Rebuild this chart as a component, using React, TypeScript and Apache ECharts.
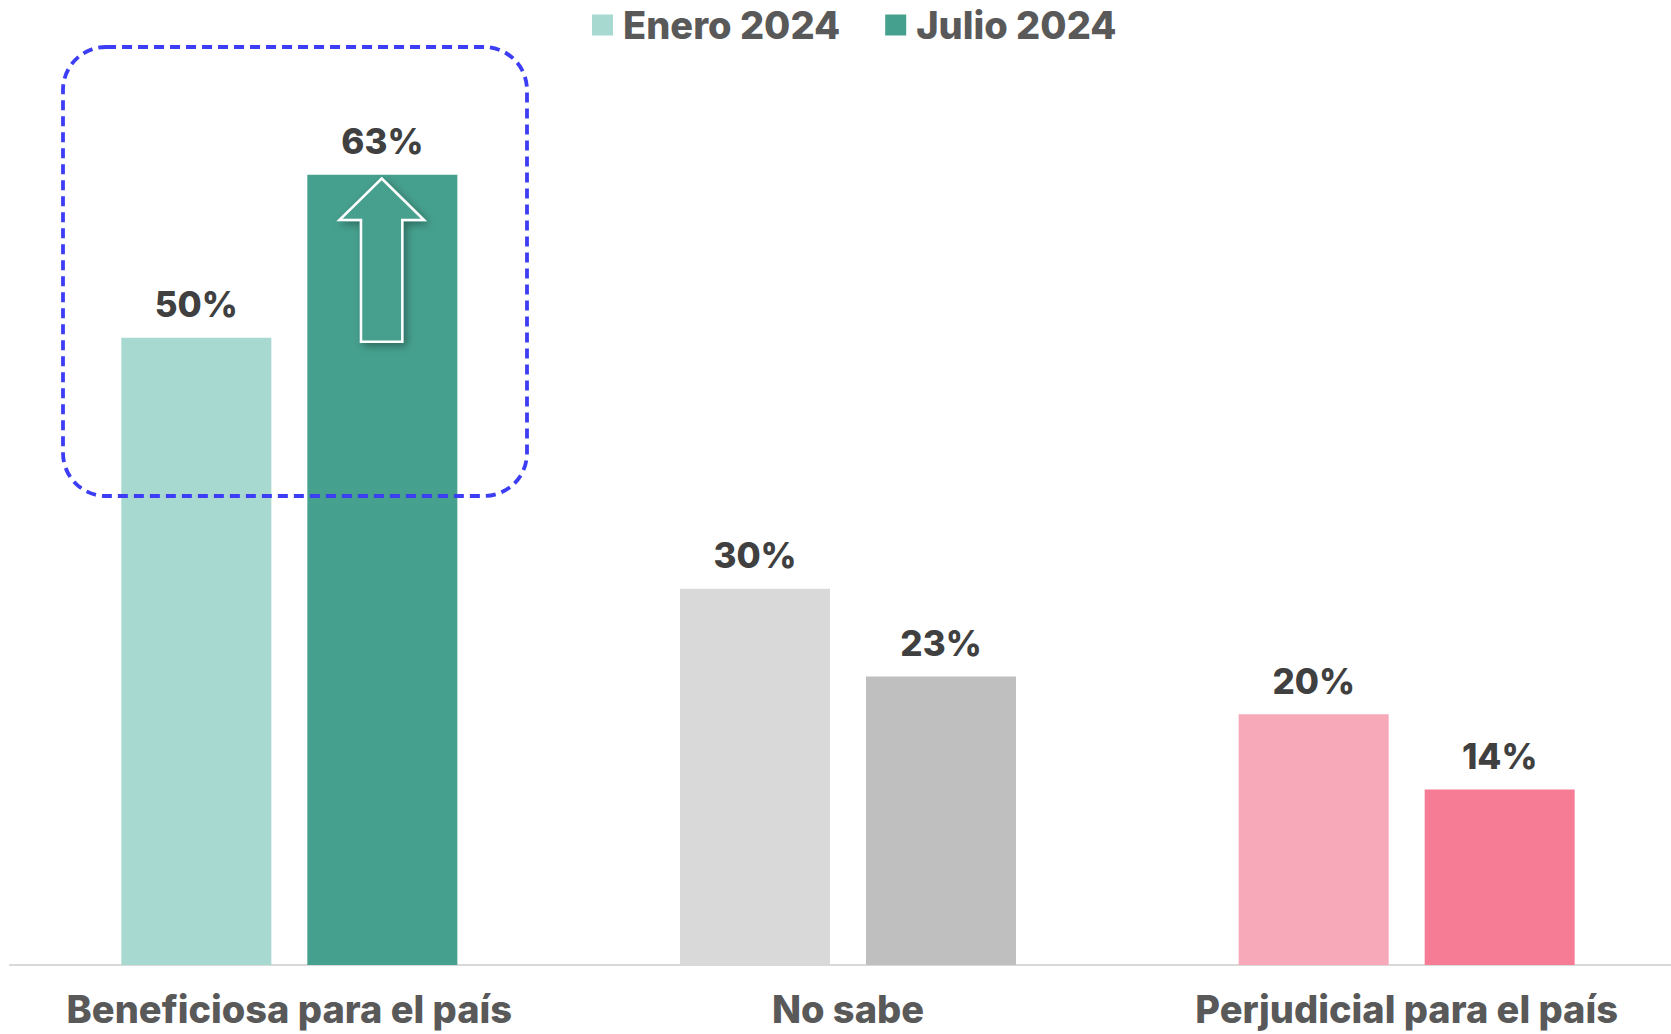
import React, { useEffect, useRef } from "react";
import * as echarts from "echarts";

const categories = ["Beneficiosa para el país", "No sabe", "Perjudicial para el país"];
const seriesNames = ["Enero 2024", "Julio 2024"];
const eneroValues = [50, 30, 20];
const julioValues = [63, 23, 14];
const eneroColors = ["#A8D9D1", "#D9D9D9", "#F7A8B9"];
const julioColors = ["#46A08E", "#BFBFBF", "#F57C94"];

const LABEL_FONT = "Inter, 'Noto Sans', sans-serif";

export default function App() {
  const ref = useRef<HTMLDivElement>(null);

  useEffect(() => {
    if (!ref.current) return;
    const chart = echarts.init(ref.current, null, { renderer: "svg" });

    const mkData = (vals: number[], cols: string[]) =>
      vals.map((v, i) => ({ value: v, itemStyle: { color: cols[i] } }));

    const label = {
      show: true,
      position: "top" as const,
      distance: 16,
      formatter: "{c}%",
      color: "#404040",
      fontFamily: LABEL_FONT,
      fontWeight: 800,
      fontSize: 35,
    };

    chart.setOption({
      animation: false,
      backgroundColor: "#ffffff",
      legend: {
        show: true,
        left: 587,
        top: 1,
        itemWidth: 21,
        itemHeight: 21,
        itemGap: 45,
        icon: "rect",
        data: [
          { name: seriesNames[0], itemStyle: { color: eneroColors[0] } },
          { name: seriesNames[1], itemStyle: { color: julioColors[0] } },
        ],
        textStyle: {
          color: "#595959",
          fontFamily: LABEL_FONT,
          fontWeight: 800,
          fontSize: 38,
          padding: [0, 0, 0, 5],
        },
      },
      grid: {
        left: 10,
        right: -15,
        top: 87,
        bottom: 69,
        containLabel: false,
        outerBoundsMode: "none",
      },
      xAxis: {
        type: "category",
        data: categories,
        axisLine: { show: true, lineStyle: { color: "#D9D9D9", width: 2 } },
        axisTick: { show: false },
        axisLabel: {
          interval: 0,
          margin: 25,
          color: "#595959",
          fontFamily: LABEL_FONT,
          fontWeight: 800,
          fontSize: 38,
          lineHeight: 38,
        },
      },
      yAxis: {
        type: "value",
        min: 0,
        max: 70,
        show: false,
        splitLine: { show: false },
      },
      series: [
        {
          name: seriesNames[0],
          type: "bar",
          barWidth: 150,
          barGap: "24%",
          data: mkData(eneroValues, eneroColors),
          label,
        },
        {
          name: seriesNames[1],
          type: "bar",
          barWidth: 150,
          barGap: "24%",
          data: mkData(julioValues, julioColors),
          label,
        },
      ],
      graphic: [
        {
          type: "rect",
          z: 100,
          shape: { x: 63, y: 47, width: 464, height: 449, r: 43 },
          style: {
            fill: "none",
            stroke: "#3D3DF5",
            lineWidth: 3.8,
            lineDash: [10, 6],
          },
        },
        {
          type: "polygon",
          z: 100,
          shape: {
            points: [
              [381.7, 178.5],
              [424, 220],
              [402.3, 220],
              [402.3, 341.7],
              [361, 341.7],
              [361, 220],
              [339.4, 220],
            ],
          },
          style: {
            fill: "#46A08E",
            stroke: "#ffffff",
            lineWidth: 2.5,
            shadowBlur: 8,
            shadowColor: "rgba(0,0,0,0.35)",
            shadowOffsetX: 3,
            shadowOffsetY: 3,
          },
        },
      ],
    });

    return () => chart.dispose();
  }, []);

  return (
    <div
      ref={ref}
      style={{ position: "fixed", left: 0, top: 0, width: 1671, height: 1034 }}
    />
  );
}
